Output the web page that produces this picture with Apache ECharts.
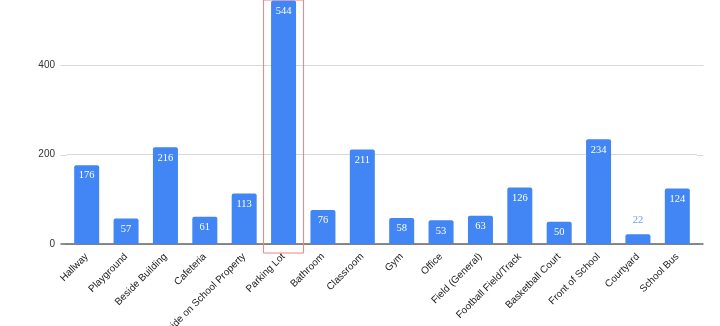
<!DOCTYPE html>
<html><head><meta charset="utf-8">
<script src="https://cdn.jsdelivr.net/npm/echarts@6/dist/echarts.min.js"></script>
<style>html,body{margin:0;padding:0;background:#fff}#c{width:720px;height:326px}</style>
</head><body><div id="c"></div>
<script>
const categories = ["Hallway","Playground","Beside Building","Cafeteria","Outside on School Property","Parking Lot","Bathroom","Classroom","Gym","Office","Field (General)","Football Field/Track","Basketball Court","Front of School","Courtyard","School Bus"];
const counts = [176,57,216,61,113,544,76,211,58,53,63,126,50,234,22,124];
const yTicks = [0,200,400];
const highlighted = "Parking Lot";

const gridLeft = 67, gridRight = 23, ext = 6.5;
const chart = echarts.init(document.getElementById('c'), null, {renderer:'canvas'});
const data = counts.map((v,i)=>{
  const d = {value:v};
  if (v < 40) d.label = {position:'top', color:'#6d9ef2', distance:8};
  return d;
});
chart.setOption({
  animation:false,
  grid:{left:gridLeft, right:gridRight, top:-24.5, bottom:82, containLabel:false, outerBoundsMode:'none'},
  xAxis:{type:'category', data:categories,
    axisTick:{show:false},
    axisLine:{lineStyle:{color:'#666', width:1.5}},
    axisLabel:{rotate:45, interval:0, color:'#222', fontFamily:'Liberation Sans, Arial', fontSize:10, margin:11}},
  yAxis:{type:'value', min:0, max:600, interval:200,
    axisLine:{show:false}, axisTick:{show:false},
    splitLine:{lineStyle:{color:'#d9d9d9'}},
    axisLabel:{color:'#333', fontFamily:'Liberation Sans, Arial', fontSize:10, margin:12,
      formatter:v=> yTicks.includes(v)? String(v):''}},
  series:[{type:'bar', data:data, barWidth:25,
    itemStyle:{color:'#4285f4', borderRadius:[2,2,0,0]},
    label:{show:true, position:'insideTop', distance:5, color:'#fff',
      fontFamily:'Liberation Serif, Times New Roman, serif', fontSize:10.5}}]
});
const cx = chart.convertToPixel({xAxisIndex:0}, highlighted);
const y0 = chart.convertToPixel({yAxisIndex:0}, 0);
const W = chart.getWidth();
const graphics = [];
yTicks.forEach(t=>{
  const y = chart.convertToPixel({yAxisIndex:0}, t);
  const isAxis = t === 0;
  const st = isAxis ? {stroke:'#666', lineWidth:1.5} : {stroke:'#d9d9d9', lineWidth:1};
  const yy = isAxis ? y : Math.round(y)+0.5;
  graphics.push({type:'line', shape:{x1:gridLeft-ext, y1:yy, x2:gridLeft, y2:yy}, style:st, silent:true});
  graphics.push({type:'line', shape:{x1:W-gridRight, y1:yy, x2:W-gridRight+ext, y2:yy}, style:st, silent:true});
});
graphics.push({type:'rect', shape:{x:cx-20, y:0, width:40, height:y0+9},
  style:{fill:'none', stroke:'#f08080', lineWidth:1}, z:100});
chart.setOption({graphic:graphics});
</script></body></html>
